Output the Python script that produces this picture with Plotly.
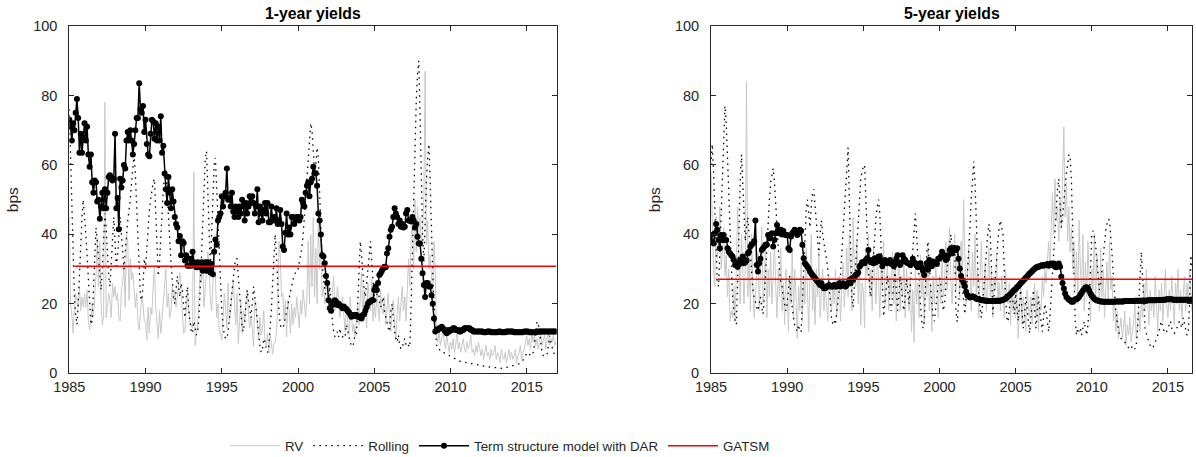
import plotly.graph_objects as go

# ---------------- data (monthly, Jan 1985 - Dec 2016), one row per year ----------------
years = list(range(1985, 2017))

dar_1y = [
    73, 71, 67, 72, 70, 75, 79, 73.5, 63.5, 69, 63.5, 68,
    72, 67, 71, 63, 59.5, 63, 55, 52, 55.5, 55, 49.5, 50,
    44.5, 48, 52, 47.5, 53, 47.5, 52, 56.5, 57, 56, 55.5, 56,
    69, 47.5, 50.5, 41.5, 56, 53.5, 55.5, 60, 59, 67, 69.5, 67,
    70, 67, 63, 66, 70, 73.5, 73.5, 83.5, 76, 75, 77, 69.5,
    73, 66, 63, 62.5, 69, 73, 72.5, 67.5, 72, 67, 71, 67,
    74, 63.5, 65.5, 57.5, 53, 49, 56.5, 52, 47.5, 53, 49.5, 45,
    43, 42, 38, 39.5, 34, 38, 37.5, 32.5, 34, 31, 31, 33,
    31, 35, 32, 31.5, 30.5, 32, 31.5, 30.5, 32, 29.5, 31, 32,
    29.5, 32, 30, 29, 31.5, 28.5, 35, 38.5, 37, 44, 45, 46,
    51, 48, 51, 52, 59, 50, 50.5, 48, 52, 46.5, 45, 48,
    46.5, 45, 48, 46, 50, 48, 44, 49, 46, 48, 51, 49,
    51, 49, 46, 48, 53, 43.5, 48, 46, 44, 47, 49, 46,
    49, 43.5, 43.5, 48, 44, 45, 44, 47.5, 43, 44, 47, 43,
    36.5, 35.5, 40.5, 46, 40, 42, 40, 45, 45, 43, 44, 45,
    45, 44, 45, 50, 49, 48, 52, 54, 55, 51, 55, 56,
    59.5, 57.6, 57.6, 54, 46, 44, 40, 34, 33.6, 31.7, 28, 26,
    21, 18.7, 18, 19.7, 20.6, 21, 20.6, 19.7, 20, 19.5, 19.2, 18.7,
    19.2, 18.7, 18.5, 18, 17.6, 17, 16.3, 16.8, 16.5, 16.8, 16.8, 16.3,
    16.3, 16, 15.8, 16.8, 17, 18, 19, 20, 20.6, 20.6, 21, 21,
    24, 25, 24, 26, 28.3, 28.8, 29.5, 30.2, 30.7, 30.5, 34.5, 36,
    39.3, 41.3, 42.2, 45, 47.5, 46, 45, 43, 44, 42.2, 43, 42,
    42.2, 46, 47, 44, 44, 43.7, 45, 44, 42, 43, 39.3, 37.4,
    37.4, 33, 28.8, 25.4, 22, 26, 26, 25, 25, 22.5, 20, 15.8,
    12, 12.5, 12.5, 13, 13, 13.4, 13, 12.5, 12, 11.5, 12.5, 12,
    12.5, 12.5, 13, 13, 12.5, 12.5, 12.5, 12, 12, 12.5, 12.5, 13,
    13, 13, 13, 13, 12.5, 12.5, 12, 12, 12, 12, 12, 12,
    12, 12, 11.8, 11.8, 11.8, 12, 12, 12, 11.8, 11.8, 11.8, 11.8,
    11.8, 11.8, 12, 12, 11.8, 11.8, 11.8, 11.8, 12, 12, 12, 12,
    12, 12, 11.8, 11.8, 11.8, 11.8, 11.8, 11.8, 11.8, 11.8, 12, 12,
    12, 12, 11.8, 11.8, 11.8, 11.8, 11.8, 11.8, 11.8, 12, 12, 12,
    12, 12, 12, 12, 12, 12, 12, 12, 12, 12, 12, 12,
]

rv_1y = [
    45, 20, 17, 11.5, 18, 23, 21, 19, 25, 18, 22, 19,
    23, 19, 24, 15, 12.5, 15, 20, 16, 22, 28, 39, 25,
    38, 20, 14, 16, 78, 16, 19, 23, 21, 16, 26, 22,
    25, 21, 23, 16, 15, 24, 26, 31, 19, 40, 38, 21,
    33, 27, 29, 24, 19, 23, 15, 12.5, 17, 22, 20, 15,
    15, 9.6, 19, 11.5, 19, 17, 25, 31, 19, 14, 10, 18,
    11.5, 16, 21, 26, 30, 19, 23, 16, 18, 25, 21, 24,
    19, 22, 25, 29, 23, 16, 11.5, 12.5, 20, 24, 18, 14,
    14, 13, 58, 8, 11.5, 14, 21, 31, 26, 33, 19, 24,
    28, 35, 31, 21, 18, 27, 33, 28, 16, 20, 12, 11.5,
    9.6, 16, 23, 19, 13, 26, 15, 18, 22, 27, 20, 14,
    23, 8.6, 15, 21, 11.5, 18, 15, 20, 24, 17, 13, 16,
    13, 7.7, 21, 19, 14, 9.6, 16, 11, 13, 18, 10, 8,
    11.5, 5.8, 11.5, 7.7, 5.5, 8.6, 9, 12, 19, 38, 34, 22,
    23, 15, 21, 10.5, 21, 18, 11.5, 20, 14, 19, 16, 22,
    18, 13, 21, 17, 24, 19, 16, 22, 38, 20, 40, 25,
    45, 22, 36, 20, 43, 30, 38, 22, 25, 20, 28, 24,
    26, 21, 19, 23, 28, 18, 20, 25, 22, 16, 19, 22,
    17, 12, 19, 15, 11, 22, 17, 12, 14, 10.5, 16, 20,
    14, 22, 29, 16, 24, 19, 13, 26, 21, 18, 27, 15,
    20, 16, 23, 18, 15, 24, 19, 17, 22, 14, 20, 23,
    16, 12, 19, 21, 14, 10, 17, 22, 15, 19, 25, 18,
    22, 15, 27, 33, 25, 39, 44, 30, 50, 35, 48, 40,
    45, 38, 41, 50, 87, 37, 44, 30, 34, 26, 22, 38,
    29, 11, 9, 12, 8, 10, 13, 9, 7, 11, 8, 6,
    9, 7, 10, 6, 8, 12, 7, 9, 6, 8, 10, 7,
    6, 9, 7, 8, 11, 6, 7, 5, 8, 6, 9, 7,
    5, 7, 4, 6, 8, 5, 6, 4, 7, 5, 6, 8,
    4, 6, 5, 3, 7, 5, 4, 6, 3, 5, 7, 4,
    6, 4, 5, 7, 3, 5, 6, 8, 4, 6, 7, 9,
    11, 8, 10, 7, 12, 9, 11, 8, 10, 7, 9, 12,
    8, 10, 11, 7, 9, 12, 8, 10, 9, 11, 8, 9,
]

rolling_1y = [
    76, 62, 45, 32, 22, 17, 14, 20, 30, 38, 45, 50,
    46, 40, 34, 28, 20, 14, 15, 25, 35, 42, 38, 33,
    28, 24, 30, 40, 46, 42, 34, 28, 25, 32, 40, 45,
    38, 30, 34, 40, 45, 40, 33, 30, 35, 40, 44, 47,
    50, 55, 60, 63, 57, 48, 38, 28, 22, 21, 25, 33,
    30, 36, 42, 47, 50, 53, 55, 56, 45, 35, 28, 32,
    40, 47, 53, 57, 59, 52, 44, 38, 32, 27, 22, 20,
    24, 28, 25, 22, 26, 24, 19, 16, 22, 25, 18, 14,
    12, 11.5, 15, 13, 11, 12, 16, 24, 34, 44, 54, 62,
    64, 50, 38, 30, 40, 52, 60, 62, 52, 42, 32, 24,
    18, 14, 11, 10, 10, 12, 16, 20, 24, 28, 31, 33,
    33, 28, 22, 17, 13, 12, 15, 20, 24, 21, 18, 16,
    20, 25, 22, 18, 14, 10, 8, 6, 7, 10, 9, 7,
    6, 8, 12, 18, 26, 34, 40, 34, 25, 18, 14, 13,
    13, 14, 16, 18, 20, 22, 24, 26, 27, 28, 29, 30,
    30, 32, 34, 36, 40, 44, 50, 56, 62, 68, 72, 70,
    62, 58, 60, 65, 62, 50, 40, 32, 27, 24, 22, 20,
    21, 25, 18, 15, 12, 10.5, 11, 12, 10.5, 13, 11, 10.5,
    11, 10.5, 14, 12, 10, 9, 8, 7.7, 9, 12, 11, 20,
    28, 38, 34, 28, 24, 22, 26, 30, 34, 38, 32, 26,
    22, 20, 23, 25, 21, 19, 20, 22, 18, 16, 14, 13,
    12, 18, 20, 15, 12, 10, 9, 11, 8, 7, 7.2, 9,
    10, 8, 7.5, 8, 7.5, 20, 35, 50, 65, 78, 86, 90,
    75, 55, 40, 32, 45, 55, 62, 66, 55, 40, 29, 20,
    12, 8, 7, 7, 6.5, 6.5, 6, 6, 5.8, 5.5, 5.3, 5,
    4.8, 4.5, 4.3, 4.2, 4, 3.8, 3.6, 3.5, 3.4, 3.3, 3.2, 3.1,
    3, 3, 2.9, 2.9, 2.8, 2.8, 2.7, 2.6, 2.5, 2.5, 2.4, 2.4,
    2.3, 2.2, 2.1, 2.0, 2.0, 1.9, 1.9, 1.8, 1.8, 1.7, 1.7, 1.6,
    1.6, 1.5, 1.5, 1.5, 1.4, 1.4, 1.5, 1.6, 1.7, 1.8, 1.9, 2.0,
    2.0, 2.0, 2.1, 2.2, 2.4, 2.6, 2.8, 3.0, 3.3, 3.8, 4.5, 5.2,
    5.8, 6, 5.5, 5.1, 5, 6, 8, 11, 14.9, 14.2, 12.5, 9,
    6, 5.1, 5.3, 5.1, 5.3, 8, 10.8, 9, 7, 6, 5.5, 5,
]

dar_5y = [
    39.8, 38, 37.4, 40.3, 43, 41.3, 38.4, 36, 39.8, 38.4, 39.8, 38.4,
    38.4, 36, 35, 34.5, 34, 33.6, 32.6, 31.2, 31.7, 30.7, 31.5, 32.6,
    31.7, 33.6, 31.7, 32, 32.5, 34.5, 35, 36.5, 37, 37.4, 38, 44,
    31.2, 29.3, 31.7, 33, 35.5, 36, 36.5, 37, 37, 39.8, 38.8, 40,
    40.3, 36.5, 38.4, 40.3, 42.7, 41.3, 40.3, 41.3, 40, 41, 40, 39.8,
    39.8, 36, 35.5, 39.4, 40.3, 40.8, 41.3, 40.8, 39.8, 40.3, 41.3, 41,
    37, 33.1, 31.7, 31.2, 30.7, 30.2, 29.3, 28.8, 28.3, 27.8, 27.4, 26.8,
    26.4, 25.9, 25.4, 25.9, 25, 24.5, 24.5, 25, 25, 25.4, 25, 25,
    25, 25.4, 25, 25, 25.4, 25.9, 25, 25.5, 25.9, 25.5, 25, 25.4,
    25.9, 26.9, 25.9, 27.4, 27, 27.8, 28.3, 28.5, 29, 30.7, 31.2, 32,
    32, 31.7, 32.6, 33.1, 35.5, 32.6, 32, 32.6, 31.7, 33.1, 32, 32.5,
    33.6, 33.6, 32.2, 30.8, 32.2, 32.6, 32, 31.7, 32, 32.6, 31.5, 32,
    30.8, 31.5, 33, 34, 31.7, 31.2, 32, 34, 33, 32.6, 32, 31.7,
    31.7, 31.2, 31.5, 33, 32, 31.7, 31, 30.5, 31.2, 31.7, 30.5, 29.5,
    28.3, 30.2, 31.7, 29.8, 32.6, 31.2, 30.8, 32.2, 31.7, 31.7, 31.5, 33,
    33, 33.6, 35, 33.6, 34, 32.6, 33, 34, 35.5, 36, 34.5, 36,
    36, 35.5, 36, 33, 30.2, 28, 26.9, 26, 25.1, 23.5, 22.5, 22.2,
    21.8, 22, 22.2, 22, 21.8, 21.5, 21.4, 21.4, 21.2, 21, 21, 21,
    20.9, 20.9, 20.9, 20.8, 20.8, 20.8, 20.8, 20.8, 20.9, 20.9, 20.9, 20.9,
    20.9, 21, 21.1, 21.3, 21.5, 21.8, 22.1, 22.5, 22.8, 23.2, 23.6, 24,
    24.3, 24.7, 25.1, 25.5, 25.9, 26.3, 26.7, 27.1, 27.5, 27.9, 28.3, 28.7,
    29, 29.4, 29.8, 30.1, 30.4, 30.7, 30.6, 30.9, 31, 31.2, 31, 31.2,
    31.2, 31.5, 31, 31.3, 31.6, 31.2, 31.6, 30.7, 30.5, 31, 31.6, 30.7,
    27.8, 26, 24.4, 23, 22, 21.6, 21.2, 21, 20.6, 20.6, 21, 21.3,
    21.3, 21.6, 22, 22.6, 23.2, 23.8, 24.3, 24.7, 24.8, 24.5, 23.8, 23,
    22.4, 21.9, 21.5, 21.2, 21, 20.9, 20.8, 20.7, 20.7, 20.6, 20.6, 20.6,
    20.6, 20.6, 20.6, 20.6, 20.6, 20.6, 20.6, 20.7, 20.7, 20.7, 20.7, 20.7,
    20.7, 20.7, 20.8, 20.8, 20.8, 20.8, 20.8, 20.8, 20.8, 20.8, 20.9, 20.9,
    20.9, 20.9, 20.9, 20.9, 20.9, 20.9, 20.9, 20.9, 21, 21, 21, 21,
    21, 21, 21, 21, 21.1, 21.1, 21.1, 21.1, 21.2, 21.2, 21.2, 21.3,
    21.3, 21.3, 21.3, 21.3, 21.2, 21.2, 21.2, 21.2, 21.2, 21.2, 21.2, 21.2,
    21.2, 21.2, 21.2, 21.2, 21.2, 21.2, 21.2, 21.2, 21.2, 21.2, 21.2, 21.2,
]

rv_5y = [
    58, 40, 30, 25, 45, 33, 38, 48, 30, 35, 42, 28,
    34, 22, 30, 15, 18, 16, 25, 15, 30, 48, 35, 20,
    40, 28, 20, 30, 84, 22, 35, 18, 40, 25, 16, 22,
    28, 35, 18, 30, 42, 20, 25, 38, 16, 30, 22, 35,
    20, 28, 38, 25, 16, 30, 22, 36, 18, 26, 14, 30,
    24, 12, 28, 20, 35, 16, 30, 22, 10, 25, 18, 32,
    15, 28, 20, 36, 22, 12, 30, 40, 18, 26, 14, 30,
    22, 35, 16, 25, 30, 18, 26, 20, 15, 28, 24, 18,
    26, 20, 30, 16, 24, 28, 15, 22, 32, 19, 25, 36,
    22, 40, 28, 18, 45, 30, 25, 38, 20, 32, 14, 26,
    24, 13, 35, 28, 40, 22, 30, 18, 36, 25, 20, 34,
    28, 16, 30, 24, 38, 20, 26, 32, 18, 28, 22, 35,
    20, 30, 15, 26, 35, 18, 28, 22, 33, 16, 30, 25,
    18, 28, 12, 24, 9, 30, 20, 26, 16, 34, 22, 28,
    14, 30, 22, 36, 18, 26, 12, 28, 20, 32, 24, 16,
    28, 20, 34, 22, 26, 38, 24, 30, 42, 26, 20, 32,
    40, 24, 35, 30, 22, 38, 26, 50, 32, 20, 28, 36,
    30, 18, 35, 25, 40, 22, 30, 16, 28, 38, 24, 20,
    32, 18, 26, 36, 22, 30, 16, 28, 24, 34, 20, 26,
    18, 28, 24, 16, 30, 22, 20, 26, 14, 24, 18, 22,
    16, 24, 10, 20, 26, 14, 22, 18, 12, 24, 20, 16,
    22, 14, 20, 26, 16, 24, 12, 20, 18, 28, 22, 30,
    26, 34, 38, 30, 45, 52, 40, 56, 44, 48, 38, 50,
    42, 60, 71, 45, 55, 38, 48, 35, 42, 30, 38, 24,
    35, 20, 44, 30, 25, 40, 18, 32, 22, 38, 26, 15,
    30, 24, 40, 20, 34, 28, 18, 36, 22, 30, 16, 26,
    32, 20, 38, 24, 28, 15, 22, 12, 18, 10, 14, 16,
    10, 13, 18, 8, 14, 11, 16, 9, 12, 15, 20, 10,
    14, 18, 12, 22, 16, 26, 18, 30, 20, 14, 24, 18,
    22, 16, 28, 20, 12, 24, 18, 26, 15, 22, 30, 20,
    16, 24, 18, 28, 22, 14, 26, 20, 30, 18, 24, 16,
    22, 28, 18, 26, 20, 30, 24, 18, 26, 22, 28, 20,
]

rolling_5y = [
    60, 66, 58, 45, 32, 26, 25, 35, 48, 60, 70, 77,
    72, 62, 50, 40, 30, 22, 18, 15, 14, 25, 40, 55,
    63, 55, 45, 38, 42, 45, 40, 34, 28, 24, 22, 20,
    19, 18, 20, 22, 19, 17, 22, 30, 38, 45, 50, 55,
    57, 59, 55, 48, 42, 36, 30, 26, 25, 22, 20, 18,
    20, 24, 28, 22, 18, 16, 14, 13, 12, 14, 12, 11.9,
    20, 30, 40, 47, 50, 45, 42, 48, 52, 53, 48, 42,
    38, 34, 40, 44, 40, 37, 35, 33, 30, 25, 20, 16,
    14, 15, 14, 17, 20, 24, 28, 34, 40, 48, 55, 60,
    65, 50, 35, 22, 19, 25, 32, 40, 46, 52, 56, 58,
    59.5, 60, 48, 38, 30, 25, 22, 28, 35, 40, 45, 48,
    50, 46, 35, 22, 16.4, 20, 24, 28, 25, 20, 18, 22,
    26, 30, 24, 18, 22, 28, 25, 20, 18, 22, 27, 24,
    20, 25, 30, 36, 42, 46, 40, 32, 25, 20, 15, 13,
    15, 25, 35, 38, 30, 25, 20, 16, 15, 18, 22, 26,
    28, 26, 22, 18, 20, 26, 30, 34, 38, 40, 36, 34,
    36, 17.7, 14.8, 20, 26, 30, 25, 20, 17, 22, 28, 35,
    42, 50, 56, 61, 55, 45, 32, 22, 18.7, 16, 20, 25,
    30, 36, 40, 43, 40, 30, 17, 22, 28, 33, 38, 42,
    44, 42, 40, 30, 22, 16, 14.8, 18, 22, 25, 20, 17,
    23, 19, 15, 20, 24, 18, 13, 16, 22, 19, 14, 11.5,
    16, 20, 24, 18, 13, 17, 22, 18, 14, 12, 16, 20,
    18, 14, 12, 16, 22, 28, 35, 42, 48, 53, 56, 50,
    42, 45, 50, 55, 58, 60, 63, 62, 55, 40, 26, 15,
    11, 13, 12, 13, 11, 13, 15, 13, 11, 14, 20, 30,
    40, 41, 39.5, 37, 33, 28, 24, 26, 30, 34, 38, 41,
    43, 44.4, 44, 40, 34, 28, 22, 18, 15, 12, 10.5, 10,
    10, 9.5, 9, 8.5, 8, 7.5, 6.8, 7, 8, 7.5, 7, 8,
    12, 20, 30, 35, 28, 18, 13, 11.5, 10, 9, 8, 7.5,
    7.2, 8, 9, 10, 11, 12, 14, 15, 13, 12, 11.5, 12,
    13, 14, 15, 13, 12, 11.5, 12, 13, 14, 15, 14, 13,
    16, 14, 12, 11, 11.5, 20, 34, 30, 26, 22, 20, 18,
]

gatsm_level_1y = 30.8
gatsm_level_5y = 27.1
gatsm_start = 1985.33

x_ticks = [1985, 1990, 1995, 2000, 2005, 2010, 2015]
y_ticks = [0, 20, 40, 60, 80, 100]

# ---------------- figure ----------------
t = [y + m / 12 for y in years for m in range(12)]
t_g = [v for v in t if v >= gatsm_start]

GRAY = "#c8c8c8"
AX = "#262626"
FONT = "Liberation Sans, Arial, sans-serif"

fig = go.Figure()


def add_panel(xa, ya, rv, roll, dar, glev, show):
    fig.add_trace(go.Scatter(x=t, y=rv, mode="lines", name="RV",
                             line=dict(color=GRAY, width=1),
                             xaxis=xa, yaxis=ya, showlegend=show, legendrank=1))
    fig.add_trace(go.Scatter(x=t, y=roll, mode="lines", name="Rolling",
                             line=dict(color="black", width=1.3, dash="1.5px,4.5px"),
                             xaxis=xa, yaxis=ya, showlegend=show, legendrank=2))
    fig.add_trace(go.Scatter(x=t, y=dar, mode="lines+markers",
                             name="Term structure model with DAR",
                             line=dict(color="black", width=1.5),
                             marker=dict(color="black", size=6, symbol="circle"),
                             xaxis=xa, yaxis=ya, showlegend=show, legendrank=3))
    fig.add_trace(go.Scatter(x=t_g, y=[glev] * len(t_g), mode="lines", name="GATSM",
                             line=dict(color="#ff0000", width=1.5),
                             xaxis=xa, yaxis=ya, showlegend=show, legendrank=4))


add_panel("x", "y", rv_1y, rolling_1y, dar_1y, gatsm_level_1y, True)
add_panel("x2", "y2", rv_5y, rolling_5y, dar_5y, gatsm_level_5y, False)

W, H = 1196, 457
ydom = [(H - 373.3) / H, (H - 26) / H]

axis_common = dict(showline=True, linecolor=AX, linewidth=1, mirror="ticks",
                   ticks="inside", ticklen=5, tickcolor=AX, showgrid=False,
                   zeroline=False, automargin=False,
                   tickfont=dict(size=14.5, color=AX, family=FONT))

fig.update_layout(
    width=W, height=H,
    margin=dict(l=0, r=0, t=0, b=0, autoexpand=False),
    paper_bgcolor="white", plot_bgcolor="white",
    font=dict(family=FONT, size=14.5, color=AX),
    xaxis=dict(domain=[69.3 / W, 556.5 / W], range=[1985, 2016.95],
               tickvals=x_ticks, anchor="y", **axis_common),
    yaxis=dict(domain=ydom, range=[0, 100], tickvals=y_ticks, anchor="x",
               title=dict(text="bps", standoff=10, font=dict(size=15.5, color=AX)),
               ticklabelstandoff=8, **axis_common),
    xaxis2=dict(domain=[711 / W, 1192 / W], range=[1985, 2016.58],
                tickvals=x_ticks, anchor="y2", **axis_common),
    yaxis2=dict(domain=ydom, range=[0, 100], tickvals=y_ticks, anchor="x2",
                title=dict(text="bps", standoff=10, font=dict(size=15.5, color=AX)),
                ticklabelstandoff=8, **axis_common),
    showlegend=True,
    legend=dict(orientation="h", x=500 / W, xanchor="center", y=1 - 446 / H,
                yanchor="middle", font=dict(size=13.3, color=AX, family=FONT),
                bgcolor="rgba(0,0,0,0)", itemwidth=50, traceorder="normal"),
    annotations=[
        dict(text="<b>1-year yields</b>", x=(69.3 + 556.5) / 2 / W, y=1 - 14 / H,
             xref="paper", yref="paper", showarrow=False,
             xanchor="center", yanchor="middle",
             font=dict(size=15.8, color="black", family=FONT)),
        dict(text="<b>5-year yields</b>", x=(711 + 1192) / 2 / W, y=1 - 14 / H,
             xref="paper", yref="paper", showarrow=False,
             xanchor="center", yanchor="middle",
             font=dict(size=15.8, color="black", family=FONT)),
    ],
)

fig.write_html("out.html", config={"displayModeBar": False},
               post_script="document.body.style.margin='0';document.body.style.overflow='hidden';")
